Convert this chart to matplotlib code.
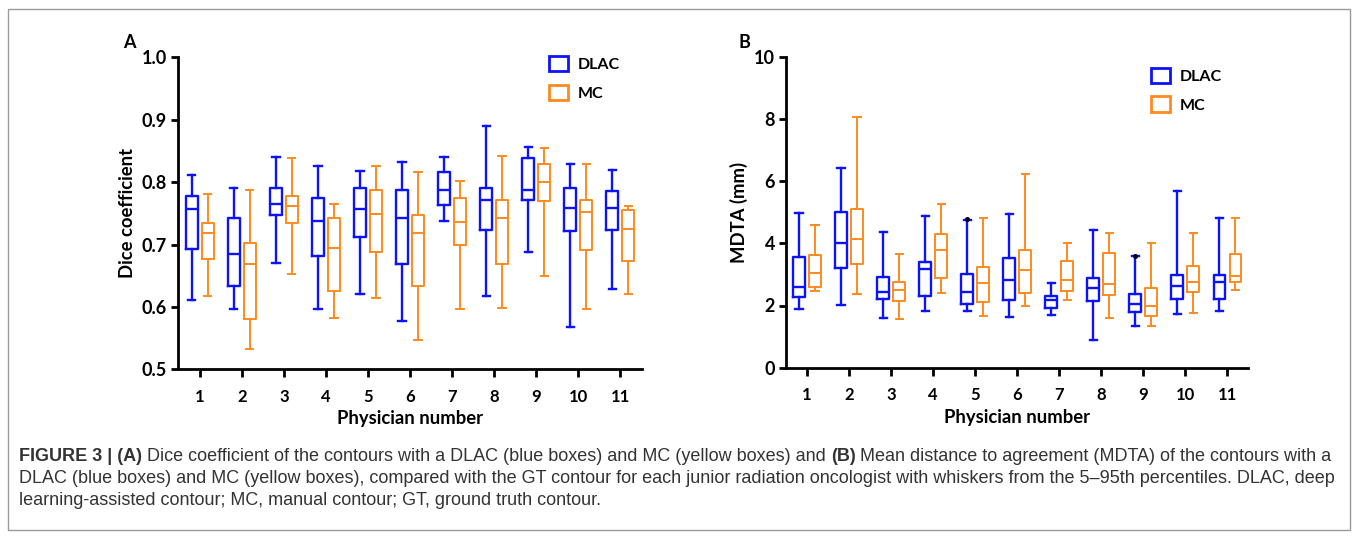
import matplotlib
matplotlib.use("Agg")
import matplotlib.pyplot as plt
from matplotlib.patches import Rectangle, Patch
from matplotlib.transforms import IdentityTransform
from matplotlib import font_manager

physicians = list(range(1, 12))

# Panel A: Dice coefficient (whisker low = 5th pct, Q1, median, Q3, whisker high = 95th pct)
dice_dlac_lo = [0.611, 0.597, 0.671, 0.596, 0.621, 0.578, 0.737, 0.617, 0.688, 0.567, 0.629]
dice_dlac_q1 = [0.692, 0.634, 0.747, 0.682, 0.712, 0.669, 0.763, 0.723, 0.771, 0.721, 0.724]
dice_dlac_med = [0.757, 0.685, 0.765, 0.737, 0.757, 0.743, 0.788, 0.771, 0.787, 0.759, 0.759]
dice_dlac_q3 = [0.777, 0.742, 0.790, 0.775, 0.790, 0.787, 0.816, 0.790, 0.838, 0.790, 0.785]
dice_dlac_hi = [0.811, 0.790, 0.841, 0.826, 0.818, 0.833, 0.841, 0.890, 0.857, 0.829, 0.819]

dice_mc_lo = [0.617, 0.532, 0.653, 0.583, 0.614, 0.547, 0.597, 0.599, 0.649, 0.596, 0.621]
dice_mc_q1 = [0.677, 0.580, 0.735, 0.625, 0.688, 0.633, 0.699, 0.668, 0.770, 0.691, 0.674]
dice_mc_med = [0.719, 0.669, 0.762, 0.695, 0.749, 0.719, 0.736, 0.743, 0.800, 0.752, 0.725]
dice_mc_q3 = [0.735, 0.702, 0.778, 0.742, 0.787, 0.747, 0.775, 0.771, 0.829, 0.771, 0.755]
dice_mc_hi = [0.781, 0.787, 0.838, 0.765, 0.826, 0.816, 0.802, 0.842, 0.854, 0.829, 0.762]

# Panel B: MDTA (mm)
mdta_dlac_lo = [1.88, 2.03, 1.61, 1.81, 1.81, 1.64, 1.68, 0.89, 1.34, 1.74, 1.81]
mdta_dlac_q1 = [2.27, 3.20, 2.20, 2.32, 2.04, 2.18, 1.92, 2.16, 1.79, 2.20, 2.22]
mdta_dlac_med = [2.58, 4.01, 2.45, 3.17, 2.42, 2.81, 2.18, 2.56, 2.05, 2.62, 2.77]
mdta_dlac_q3 = [3.55, 5.01, 2.93, 3.40, 3.02, 3.52, 2.32, 2.87, 2.37, 2.99, 2.99]
mdta_dlac_hi = [4.97, 6.42, 4.35, 4.89, 4.76, 4.95, 2.73, 4.43, 3.58, 5.69, 4.81]

mdta_mc_lo = [2.47, 2.38, 1.57, 2.41, 1.66, 1.97, 2.17, 1.61, 1.35, 1.77, 2.50]
mdta_mc_q1 = [2.59, 3.33, 2.14, 2.88, 2.12, 2.39, 2.48, 2.33, 1.66, 2.42, 2.77]
mdta_mc_med = [3.06, 4.13, 2.50, 3.79, 2.72, 3.14, 2.81, 2.70, 1.98, 2.74, 2.95]
mdta_mc_q3 = [3.61, 5.10, 2.77, 4.31, 3.24, 3.77, 3.44, 3.70, 2.56, 3.28, 3.66]
mdta_mc_hi = [4.60, 8.06, 3.64, 5.26, 4.81, 6.22, 4.01, 4.33, 4.01, 4.33, 4.81]

# single black points sitting on top of two DLAC whiskers in panel B
mdta_dot_phys = [5, 9]
mdta_dot_val = [4.77, 3.58]

BLUE = '#0b12ff'
ORANGE = '#ff8a1e'
W, H = 1357, 544

avail = {f.name for f in font_manager.fontManager.ttflist}
chart_font = ['Lato', 'DejaVu Sans'] if 'Lato' in avail else ['DejaVu Sans']
cap_font = 'Liberation Sans Narrow' if 'Liberation Sans Narrow' in avail else 'Liberation Sans'
plt.rcParams['font.family'] = chart_font


def make_stats(lo, q1, med, q3, hi, dots=None):
    stats = []
    for i in range(len(med)):
        fl = []
        if dots is not None and (i + 1) in dots[0]:
            fl = [dots[1][dots[0].index(i + 1)]]
        stats.append(dict(whislo=lo[i], q1=q1[i], med=med[i], q3=q3[i],
                          whishi=hi[i], fliers=fl))
    return stats


def draw_boxes(ax, stats, positions, color, lw):
    ax.bxp(stats, positions=positions, widths=0.28, capwidths=0.17,
           showfliers=True, manage_ticks=False,
           boxprops=dict(color=color, linewidth=lw),
           whiskerprops=dict(color=color, linewidth=lw),
           capprops=dict(color=color, linewidth=lw),
           medianprops=dict(color=color, linewidth=lw),
           flierprops=dict(marker='o', markersize=2.6, markerfacecolor='black',
                           markeredgecolor='black'))


def style_axis(ax, ylim, yticks, ylabel, xlim):
    ax.set_xlim(*xlim)
    ax.set_ylim(*ylim)
    ax.set_yticks(yticks)
    ax.set_xticks(physicians)
    ax.set_xticklabels([str(p) for p in physicians], fontweight='bold', fontsize=12)
    for lab in ax.get_yticklabels():
        lab.set_fontweight('bold')
        lab.set_fontsize(13)
    for s in ['top', 'right']:
        ax.spines[s].set_visible(False)
    for s in ['left', 'bottom']:
        ax.spines[s].set_linewidth(2.0)
    ax.tick_params(axis='x', length=6, width=2.0, pad=8)
    ax.tick_params(axis='y', length=5, width=2.0, pad=3)
    ax.set_xlabel('Physician number', fontweight='bold', fontsize=13.3, labelpad=4)
    ax.set_ylabel(ylabel, fontweight='bold', fontsize=13.3, labelpad=4)


def add_legend(ax, anchor):
    handles = [Patch(facecolor='none', edgecolor=BLUE, linewidth=2, label='DLAC'),
               Patch(facecolor='none', edgecolor=ORANGE, linewidth=2, label='MC')]
    ax.legend(handles=handles, loc='upper left', bbox_to_anchor=anchor, frameon=False,
              handlelength=1.2, handleheight=1.1, labelspacing=0.8, handletextpad=0.6,
              borderaxespad=0, borderpad=0, prop=dict(weight='bold', size=11.5))


fig = plt.figure(figsize=(W / 100, H / 100), dpi=100)

axA = fig.add_axes([178 / W, 1 - 369.3 / H, (642 - 178) / W, (369.3 - 57.3) / H])
axB = fig.add_axes([786 / W, 1 - 367.7 / H, (1248 - 786) / W, (367.7 - 56.7) / H])

pos_dlac = [p - 0.19 for p in physicians]
pos_mc = [p + 0.19 for p in physicians]

draw_boxes(axA, make_stats(dice_dlac_lo, dice_dlac_q1, dice_dlac_med, dice_dlac_q3, dice_dlac_hi),
           pos_dlac, BLUE, 1.7)
draw_boxes(axA, make_stats(dice_mc_lo, dice_mc_q1, dice_mc_med, dice_mc_q3, dice_mc_hi),
           pos_mc, ORANGE, 1.4)
style_axis(axA, (0.5, 1.0), [0.5, 0.6, 0.7, 0.8, 0.9, 1.0], 'Dice coefficient', (0.48, 11.52))
axA.set_yticklabels(['0.5', '0.6', '0.7', '0.8', '0.9', '1.0'], fontweight='bold', fontsize=13)
add_legend(axA, (0.80, 1.005))

draw_boxes(axB, make_stats(mdta_dlac_lo, mdta_dlac_q1, mdta_dlac_med, mdta_dlac_q3, mdta_dlac_hi,
                           (mdta_dot_phys, mdta_dot_val)), pos_dlac, BLUE, 1.7)
draw_boxes(axB, make_stats(mdta_mc_lo, mdta_mc_q1, mdta_mc_med, mdta_mc_q3, mdta_mc_hi),
           pos_mc, ORANGE, 1.4)
style_axis(axB, (0, 10), [0, 2, 4, 6, 8, 10], 'MDTA (mm)', (0.5, 11.49))
add_legend(axB, (0.79, 0.965))

fig.text(129 / W, 1 - 42 / H, 'A', fontweight='bold', fontsize=13, ha='center', va='center')
fig.text(744 / W, 1 - 42 / H, 'B', fontweight='bold', fontsize=13, ha='center', va='center')

# outer frame
fig.patches.append(Rectangle((8 / W, 1 - 530 / H), (1350 - 8) / W, (530 - 9) / H,
                             transform=fig.transFigure, fill=False, edgecolor='#9a9a9a',
                             linewidth=1.0))

# caption, drawn piece by piece so the bold parts sit inline
cap_lines = [
    [('FIGURE 3 | (A)', 'bold'),
     ('Dice coefficient of the contours with a DLAC (blue boxes) and MC (yellow boxes) and', 'normal'),
     ('(B)', 'bold'),
     ('Mean distance to agreement (MDTA) of the contours with a', 'normal')],
    [('DLAC (blue boxes) and MC (yellow boxes), compared with the GT contour for each junior '
      'radiation oncologist with whiskers from the 5\u201395th percentiles. DLAC, deep', 'normal')],
    [('learning-assisted contour; MC, manual contour; GT, ground truth contour.', 'normal')],
]
cap_baselines = [461, 483, 505]
renderer = fig.canvas.get_renderer()


def line_width(parts, size):
    total = 0
    sp = fig.text(0, 0, 'a a', fontsize=size, family=cap_font, transform=IdentityTransform())
    nsp = fig.text(0, 0, 'aa', fontsize=size, family=cap_font, transform=IdentityTransform())
    space = sp.get_window_extent(renderer).width - nsp.get_window_extent(renderer).width
    sp.remove()
    nsp.remove()
    for k, (s, wt) in enumerate(parts):
        t = fig.text(0, 0, s, fontsize=size, fontweight=wt, family=cap_font,
                     transform=IdentityTransform())
        total += t.get_window_extent(renderer).width
        t.remove()
        if k < len(parts) - 1:
            total += space
    return total, space


base = 12.0
w0, _ = line_width(cap_lines[0], base)
cap_size = base * (1338 - 19) / w0
_, space = line_width(cap_lines[0], cap_size)

for parts, yb in zip(cap_lines, cap_baselines):
    x = 19
    for s, wt in parts:
        t = fig.text(x, H - yb, s, fontsize=cap_size, fontweight=wt, family=cap_font,
                     color='#333333', va='baseline', ha='left', transform=IdentityTransform())
        x += t.get_window_extent(renderer).width + space

fig.savefig('out.png', dpi=100)
